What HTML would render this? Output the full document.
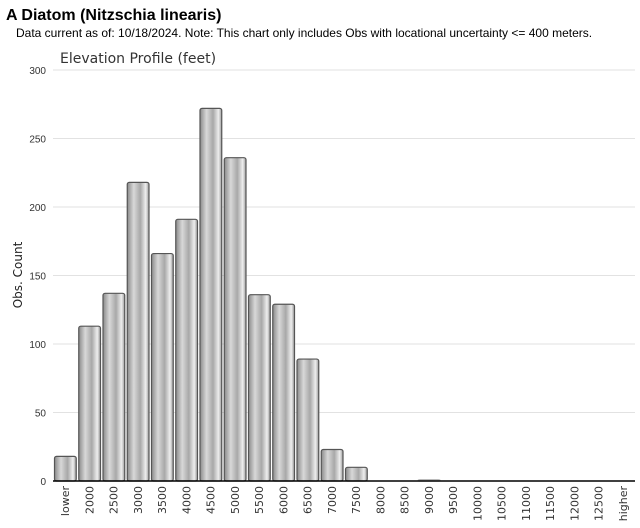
<!DOCTYPE html>
<html><head><meta charset="utf-8"><style>
body{margin:0;background:#fff;font-family:"Liberation Sans",sans-serif;}
</style></head><body>
<svg width="640" height="523" xmlns="http://www.w3.org/2000/svg">
<defs>
<linearGradient id="g" x1="0" x2="1" y1="0" y2="0">
<stop offset="0" stop-color="#8a8a8a"/><stop offset="0.3" stop-color="#d8d8d8"/><stop offset="0.6" stop-color="#a8a8a8"/><stop offset="0.85" stop-color="#eeeeee"/><stop offset="1" stop-color="#9a9a9a"/>
</linearGradient>
</defs>
<text x="6" y="20" font-size="16" font-weight="bold" fill="#000">A Diatom   (Nitzschia linearis)</text>
<text x="16" y="37" font-size="12" fill="#000">Data current as of: 10/18/2024.    Note: This chart only includes Obs with locational uncertainty &lt;= 400 meters.</text>
<text x="60" y="63" font-size="14" fill="#333" font-family="DejaVu Sans, sans-serif">Elevation Profile (feet)</text>
<text transform="translate(22,275) rotate(-90)" text-anchor="middle" font-size="12" fill="#222" font-family="DejaVu Sans, sans-serif">Obs. Count</text>
<g id="grid"></g><g id="bars"></g><g id="xl"></g>
<line x1="53" y1="481" x2="635" y2="481" stroke="#000" stroke-width="1.5"/>
</svg>
<script>
const categories=["lower","2000","2500","3000","3500","4000","4500","5000","5500","6000","6500","7000","7500","8000","8500","9000","9500","10000","10500","11000","11500","12000","12500","higher"];
const counts=[18,113,137,218,166,191,272,236,136,129,89,23,10,0,0,1,0,0,0,0,0,0,0,0];
const yTicks=[0,50,100,150,200,250,300];
const X0=53,X1=635,Y0=481,Y1=70,YMAX=300;
const band=(X1-X0)/categories.length;
const y=v=>Y0-(v/YMAX)*(Y0-Y1);
const x=i=>X0+i*band;
const NS="http://www.w3.org/2000/svg";
const grid=document.getElementById('grid'),bars=document.getElementById('bars'),xl=document.getElementById('xl');
yTicks.forEach(t=>{
 const l=document.createElementNS(NS,'line');
 l.setAttribute('x1',X0);l.setAttribute('x2',X1);l.setAttribute('y1',y(t));l.setAttribute('y2',y(t));
 l.setAttribute('stroke','#e2e2e2');
 
 
 grid.appendChild(l);
 const tx=document.createElementNS(NS,'text');
 tx.setAttribute('x',46);tx.setAttribute('y',y(t)+4);tx.setAttribute('text-anchor','end');
 tx.setAttribute('font-size','10');tx.setAttribute('fill','#333');
 tx.textContent=t;
 
 
 grid.appendChild(tx);
});
categories.forEach((c,i)=>{
 const v=counts[i];
 if(v>0){
  const r=document.createElementNS(NS,'rect');
  r.setAttribute('x',x(i)+1.5);r.setAttribute('width',band-2.5);
  r.setAttribute('y',y(v));r.setAttribute('height',Math.max(Y0-y(v),1));
  r.setAttribute('rx',2);
  r.setAttribute('fill','url(#g)');
  r.setAttribute('stroke',v>2?'#555':'#bbb');r.setAttribute('stroke-width','1.2');
  
  
  bars.appendChild(r);
 }
 const t=document.createElementNS(NS,'text');
 const cx=x(i)+band/2+4;
 t.setAttribute('transform','translate('+cx+',486) rotate(-90)');
 t.setAttribute('text-anchor','end');t.setAttribute('font-size','11');t.setAttribute('fill','#333');
 t.setAttribute('font-family','DejaVu Sans, sans-serif');
 t.textContent=c;
 
 
 xl.appendChild(t);
});
</script>
</body></html>
